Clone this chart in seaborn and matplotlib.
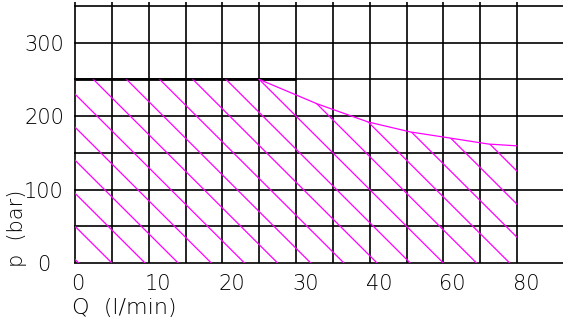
import numpy as np
import matplotlib
matplotlib.use("Agg")
import matplotlib.pyplot as plt
from matplotlib.transforms import ScaledTranslation
import seaborn as sns

# ---- data (x in chart grid positions; tick labels as printed) ----
q_pos = [25, 32.9, 39.8, 45.5, 51, 56.1, 60]
p_curve = [250, 216.6, 192, 178.5, 170, 162, 159.5]
p_max = 250
q_max_line_end = 30
x_ticks = [0, 10, 20, 30, 40, 50, 60]
x_labels = ["0", "10", "20", "30", "40", "60", "80"]
y_ticks = [0, 100, 200, 300]
y_labels = ["0", "100", "200", "300"]
grid_x = list(range(0, 61, 5))
grid_y = list(range(0, 351, 50))

sns.set_style("white")
plt.rcParams["font.family"] = ["DejaVu Sans"]
plt.rcParams["font.weight"] = "light"
plt.rcParams["axes.labelweight"] = "light"

W, H = 566, 323
fig = plt.figure(figsize=(W / 100, H / 100), dpi=100)
ax = fig.add_axes([74 / W, (H - 264) / H, 489 / W, 262 / H])
XMIN, XMAX = -0.136, 66.24
YMIN, YMAX = -1.36, 355.4
ax.set_xlim(XMIN, XMAX)
ax.set_ylim(YMIN, YMAX)
for s in ax.spines.values():
    s.set_visible(False)

MAG = "#ff00ff"
TXT = "#000000"
# grid
ax.hlines(grid_y, XMIN, XMAX, color="black", lw=1.2, zorder=2)
ax.vlines(grid_x, 0, YMAX, color="black", lw=1.2, zorder=2)
ax.plot([0, q_max_line_end], [p_max, p_max], color="black", lw=2.0, zorder=3,
        solid_capstyle="butt")

# hatched working region
xs = [0, 0] + q_pos + [q_pos[-1]]
ys = [0, p_max] + p_curve + [0]
poly = plt.Polygon(np.column_stack([xs, ys]), closed=True, facecolor="none",
                   edgecolor="none", transform=ax.transData)
ax.add_patch(poly)
for k in range(-7, 13):
    c = 10 - 0.9 * k
    xx = np.array([-1.0, 70.0])
    yy = 50 * (c - xx / 5)
    ln, = ax.plot(xx, yy, color=MAG, lw=0.9, zorder=4)
    ln.set_clip_path(poly)

sns.lineplot(x=q_pos, y=p_curve, color=MAG, lw=0.9, ax=ax, zorder=5)

# ticks
ax.set_xticks(x_ticks, x_labels)
ax.set_yticks(y_ticks, y_labels)
ax.tick_params(axis="x", length=0, pad=7, labelsize=15, labelcolor=TXT)
ax.tick_params(axis="y", length=0, pad=21.6, labelsize=15, labelcolor=TXT)
off = ScaledTranslation(-0.04, 0, fig.dpi_scale_trans)
for lab in ax.get_xticklabels():
    lab.set_ha("left")
    lab.set_transform(lab.get_transform() + off)
for lab in ax.get_yticklabels():
    lab.set_ha("center")

ax.set_xlabel("Q  (l/min)", fontsize=16, color=TXT, fontweight="light")
ax.xaxis.label.set_ha("left")
ax.xaxis.label.set_va("center")
ax.xaxis.set_label_coords(-2 / 489, -44 / 262)
ax.set_ylabel("p  (bar)", fontsize=15, color=TXT, fontweight="light")
ax.yaxis.label.set_ha("left")
ax.yaxis.label.set_va("center")
ax.yaxis.set_label_coords(-57 / 489, -3 / 262)

fig.savefig("out.png", dpi=100)
